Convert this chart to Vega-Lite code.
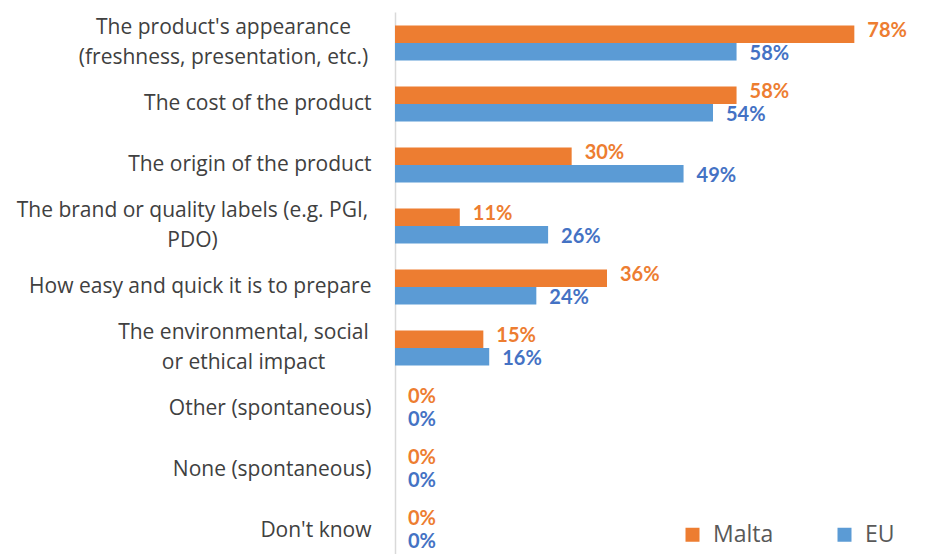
{
  "$schema": "https://vega.github.io/schema/vega-lite/v6.json",
  "width": 530,
  "height": 542,
  "autosize": {"type": "none"},
  "padding": {"left": 395, "top": 12, "right": 4, "bottom": 0},
  "background": "white",
  "config": {"view": {"stroke": null}, "font": "Open Sans"},
  "data": {
    "values": [
      {"cat": "The product's appearance|(freshness, presentation, etc.)", "series": "Malta", "v": 0.78},
      {"cat": "The product's appearance|(freshness, presentation, etc.)", "series": "EU", "v": 0.58},
      {"cat": "The cost of the product", "series": "Malta", "v": 0.58},
      {"cat": "The cost of the product", "series": "EU", "v": 0.54},
      {"cat": "The origin of the product", "series": "Malta", "v": 0.30},
      {"cat": "The origin of the product", "series": "EU", "v": 0.49},
      {"cat": "The brand or quality labels (e.g. PGI,|PDO)", "series": "Malta", "v": 0.11},
      {"cat": "The brand or quality labels (e.g. PGI,|PDO)", "series": "EU", "v": 0.26},
      {"cat": "How easy and quick it is to prepare", "series": "Malta", "v": 0.36},
      {"cat": "How easy and quick it is to prepare", "series": "EU", "v": 0.24},
      {"cat": "The environmental, social|or ethical impact", "series": "Malta", "v": 0.15},
      {"cat": "The environmental, social|or ethical impact", "series": "EU", "v": 0.16},
      {"cat": "Other (spontaneous)", "series": "Malta", "v": 0},
      {"cat": "Other (spontaneous)", "series": "EU", "v": 0},
      {"cat": "None (spontaneous)", "series": "Malta", "v": 0},
      {"cat": "None (spontaneous)", "series": "EU", "v": 0},
      {"cat": "Don't know", "series": "Malta", "v": 0},
      {"cat": "Don't know", "series": "EU", "v": 0}
    ]
  },
  "encoding": {
    "y": {
      "field": "cat",
      "type": "nominal",
      "sort": null,
      "scale": {"paddingInner": 0.426, "paddingOuter": 0.156, "align": 0.71},
      "axis": {
        "title": null,
        "ticks": false,
        "tickSize": 0,
        "domainColor": "#D9D9D9",
        "domainWidth": 1.5,
        "labelFont": "Open Sans",
        "labelFontSize": 21,
        "labelColor": "#404040",
        "labelLineHeight": 30,
        "labelLimit": 420,
        "labelExpr": "split(datum.label, '|')",
        "labelAlign": {
          "condition": {"test": "indexof(datum.value, '|') >= 0", "value": "center"},
          "value": "right"
        },
        "labelPadding": {
          "condition": [
            {"test": "indexof(datum.value, 'appearance') >= 0", "value": 172},
            {"test": "indexof(datum.value, 'PDO') >= 0", "value": 203},
            {"test": "indexof(datum.value, 'ethical') >= 0", "value": 152}
          ],
          "value": 24
        },
        "labelOffset": {
          "condition": {"test": "indexof(datum.value, '|') >= 0", "value": -15},
          "value": 0
        }
      }
    },
    "yOffset": {
      "field": "series",
      "type": "nominal",
      "sort": ["Malta", "EU"],
      "scale": {"paddingInner": 0, "paddingOuter": 0}
    },
    "x": {
      "field": "v",
      "type": "quantitative",
      "scale": {"domain": [0, 0.9], "nice": false},
      "axis": null
    }
  },
  "layer": [
    {
      "mark": {"type": "bar"},
      "encoding": {
        "color": {
          "field": "series",
          "type": "nominal",
          "sort": ["Malta", "EU"],
          "scale": {"domain": ["Malta", "EU"], "range": ["#ED7D31", "#5B9BD5"]},
          "legend": {
            "title": null,
            "orient": "none",
            "direction": "horizontal",
            "legendX": 286,
            "legendY": 511,
            "symbolType": "square",
            "symbolSize": 196,
            "symbolStrokeWidth": 0,
            "labelFont": "Open Sans",
            "labelFontSize": 23,
            "labelColor": "#595959",
            "labelOffset": 9,
            "columnPadding": 59
          }
        }
      }
    },
    {
      "mark": {
        "type": "text",
        "align": "left",
        "baseline": "middle",
        "dx": 13,
        "dy": {"expr": "datum.series === 'Malta' ? -3 : 2"},
        "font": "Lato",
        "fontSize": 20,
        "fontWeight": "bold"
      },
      "encoding": {
        "text": {"field": "v", "type": "quantitative", "format": ".0%"},
        "color": {
          "condition": {"test": "datum.series === 'Malta'", "value": "#ED7D31"},
          "value": "#4472C4"
        }
      }
    }
  ]
}
